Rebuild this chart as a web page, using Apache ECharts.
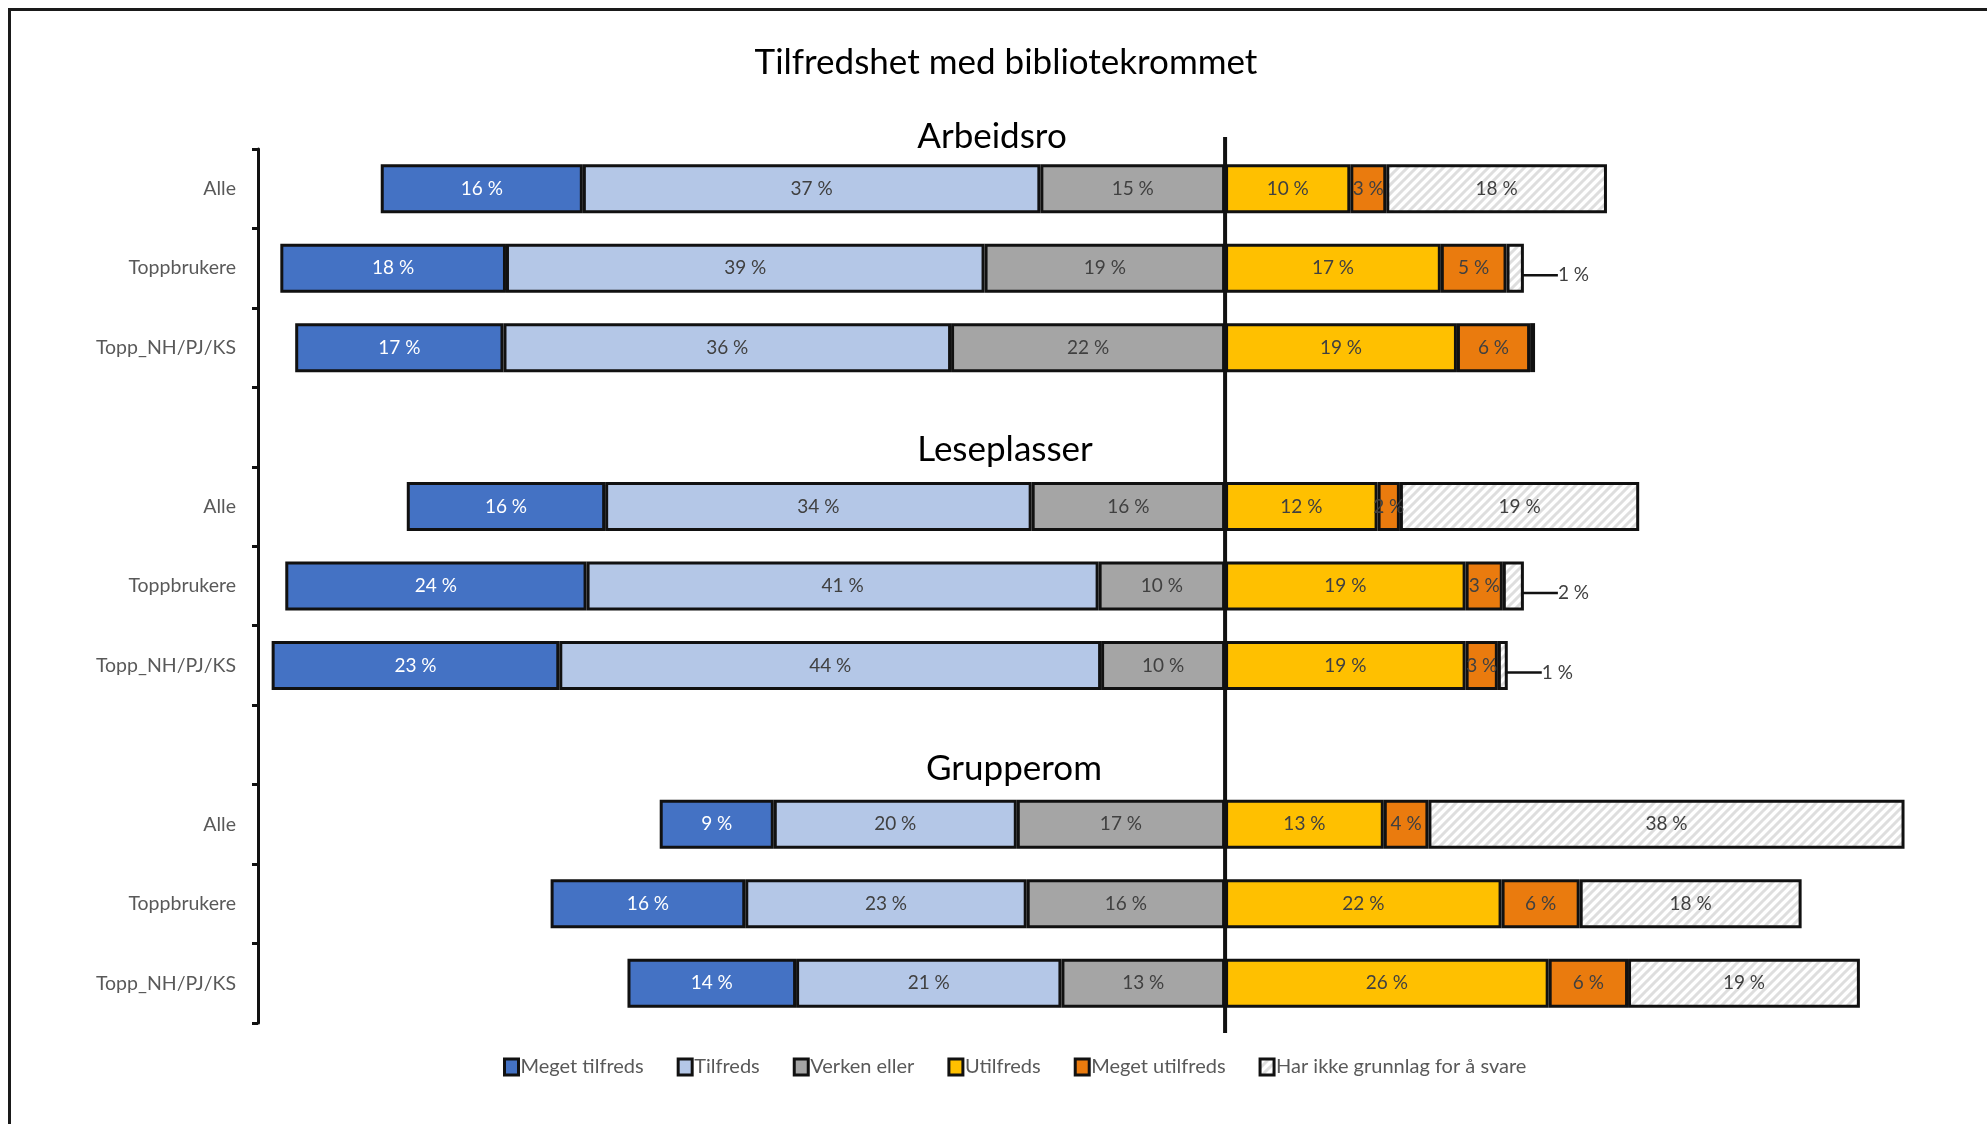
<!DOCTYPE html>
<html>
<head>
<meta charset="utf-8">
<title>Tilfredshet med bibliotekrommet</title>
<script src="https://cdn.jsdelivr.net/npm/echarts@6/dist/echarts.min.js"></script>
<style>
    html, body { margin: 0; padding: 0; background: #fff; }
    #chart { width: 1987px; height: 1124px; }
</style>
</head>
<body>
<div id="chart"></div>
<script>
// grupper og respondenter
const groups = ['Arbeidsro', 'Leseplasser', 'Grupperom'];
const respondents = ['Alle', 'Toppbrukere', 'Topp_NH/PJ/KS'];

// andeler i %, rekkefølge: Arbeidsro (Alle, Topp, Topp_NH), Leseplasser (...), Grupperom (...)
const megetTilfreds   = [16.3, 18.2, 16.8, 16.0, 24.3, 23.2,  9.2, 15.7, 13.6];
const tilfreds        = [36.9, 38.6, 36.1, 34.4, 41.3, 43.7, 19.6, 22.7, 21.4];
const verkenEller     = [14.9, 19.4, 22.1, 15.6, 10.2, 10.0, 16.8, 16.0, 13.2];
const utilfreds       = [10.1, 17.4, 18.7, 12.3, 19.4, 19.4, 12.8, 22.3, 26.1];
const megetUtilfreds  = [ 2.9,  5.3,  5.9,  1.8,  3.0,  2.6,  3.6,  6.3,  6.4];
const harIkkeGrunnlag = [17.8,  1.4,  0.4, 19.3,  1.7,  0.8, 38.4, 17.9, 18.7];

const legendNames = ['Meget tilfreds', 'Tilfreds', 'Verken eller', 'Utilfreds', 'Meget utilfreds', 'Har ikke grunnlag for å svare'];

const FONT = 'Lato';

// skravert mønster for "Har ikke grunnlag"
function hatch() {
    const c = document.createElement('canvas');
    c.width = 9;
    c.height = 9;
    const ctx = c.getContext('2d');
    ctx.fillStyle = '#fff';
    ctx.fillRect(0, 0, 9, 9);
    ctx.strokeStyle = '#dedede';
    ctx.lineWidth = 3;
    ctx.beginPath();
    ctx.moveTo(-2, 11); ctx.lineTo(11, -2);
    ctx.moveTo(-2, 2); ctx.lineTo(2, -2);
    ctx.moveTo(7, 11); ctx.lineTo(11, 7);
    ctx.stroke();
    return { image: c, repeat: 'repeat' };
}

// rader med en tom rad mellom gruppene (plass til gruppetittel)
const rowIndex = [];
const yLabels = [];
groups.forEach(function (g, gi) {
    if (gi > 0) {
        rowIndex.push(-1);
        yLabels.push('');
    }
    respondents.forEach(function (r, ri) {
        rowIndex.push(gi * respondents.length + ri);
        yLabels.push(r);
    });
});

function rows(values, sign) {
    return rowIndex.map(function (i) {
        return i < 0 ? '-' : sign * values[i];
    });
}

function pct(p) {
    const v = Math.abs(p.value);
    return v < 0.5 ? '' : Math.round(v) + ' %';
}

function bar(name, values, sign, color, labelColor) {
    return {
        name: name,
        type: 'bar',
        stack: 'total',
        barWidth: 49,
        itemStyle: { color: color, borderColor: '#111', borderWidth: 3 },
        label: {
            show: true,
            position: 'inside',
            formatter: pct,
            color: labelColor,
            fontFamily: FONT,
            fontSize: 19
        },
        data: rows(values, sign)
    };
}

const seriesVerken = bar('Verken eller', verkenEller, -1, '#a5a5a5', '#404040');
const seriesTilfreds = bar('Tilfreds', tilfreds, -1, '#b4c7e7', '#404040');
const seriesMeget = bar('Meget tilfreds', megetTilfreds, -1, '#4472c4', '#fff');
const seriesUtilfreds = bar('Utilfreds', utilfreds, 1, '#ffc000', '#404040');
const seriesMegetU = bar('Meget utilfreds', megetUtilfreds, 1, '#ea7b0e', '#404040');
const seriesHarIkke = bar('Har ikke grunnlag for å svare', harIkkeGrunnlag, 1, hatch(), '#404040');

// små verdier får etikett utenfor med linje
seriesHarIkke.data = seriesHarIkke.data.map(function (v) {
    if (v === '-' || v < 0.5 || v >= 3) return v;
    return {
        value: v,
        label: { position: 'right', distance: 34, offset: [0, 7] },
        labelLine: { show: true, length2: 9, lineStyle: { color: '#111', width: 2.5 } }
    };
});

const chart = echarts.init(document.getElementById('chart'));

chart.setOption({
    animation: false,
    backgroundColor: '#fff',
    textStyle: { fontFamily: FONT },
    grid: {
        left: 258,
        top: 149,
        width: 1711,
        height: 874,
        outerBoundsMode: 'none'
    },
    legend: {
        data: legendNames,
        left: 498,
        top: 1052,
        icon: 'rect',
        itemWidth: 14,
        itemHeight: 16,
        itemGap: 33,
        itemStyle: { borderColor: '#111', borderWidth: 3 },
        textStyle: { fontFamily: FONT, fontSize: 20, color: '#595959', padding: [0, 0, 0, -3] }
    },
    xAxis: {
        type: 'value',
        min: -78,
        max: 60,
        show: false
    },
    yAxis: {
        type: 'category',
        inverse: true,
        data: yLabels,
        axisLine: { show: true, onZero: false, lineStyle: { color: '#111', width: 3 } },
        axisTick: { show: true, length: 6, lineStyle: { color: '#111', width: 3 } },
        axisLabel: { color: '#595959', fontFamily: FONT, fontSize: 19.5, margin: 22 },
        splitLine: { show: false }
    },
    graphic: [
        {
            type: 'rect',
            silent: true,
            shape: { x: 9.5, y: 9.5, width: 2000, height: 1140 },
            style: { fill: 'none', stroke: '#1a1a1a', lineWidth: 3 }
        },
        {
            type: 'text', x: 1006, y: 63, silent: true,
            style: { text: 'Tilfredshet med bibliotekrommet', font: '35px ' + FONT, fill: '#000', align: 'center', verticalAlign: 'middle' }
        },
        {
            type: 'text', x: 992, y: 137, silent: true,
            style: { text: groups[0], font: '35px ' + FONT, fill: '#000', align: 'center', verticalAlign: 'middle' }
        },
        {
            type: 'text', x: 1005, y: 450, silent: true,
            style: { text: groups[1], font: '35px ' + FONT, fill: '#000', align: 'center', verticalAlign: 'middle' }
        },
        {
            type: 'text', x: 1014, y: 769, silent: true,
            style: { text: groups[2], font: '35px ' + FONT, fill: '#000', align: 'center', verticalAlign: 'middle' }
        }
    ],
    series: [seriesVerken, seriesTilfreds, seriesMeget, seriesUtilfreds, seriesMegetU, seriesHarIkke]
});

// senterlinje ved 0, litt lengre enn plottområdet
const x0 = chart.convertToPixel({ xAxisIndex: 0 }, 0);
chart.setOption({
    graphic: [{
        id: 'nullinje',
        type: 'line',
        silent: true,
        z: 10,
        shape: { x1: x0, y1: 137, x2: x0, y2: 1033 },
        style: { stroke: '#111', lineWidth: 4 }
    }]
});
</script>
</body>
</html>
